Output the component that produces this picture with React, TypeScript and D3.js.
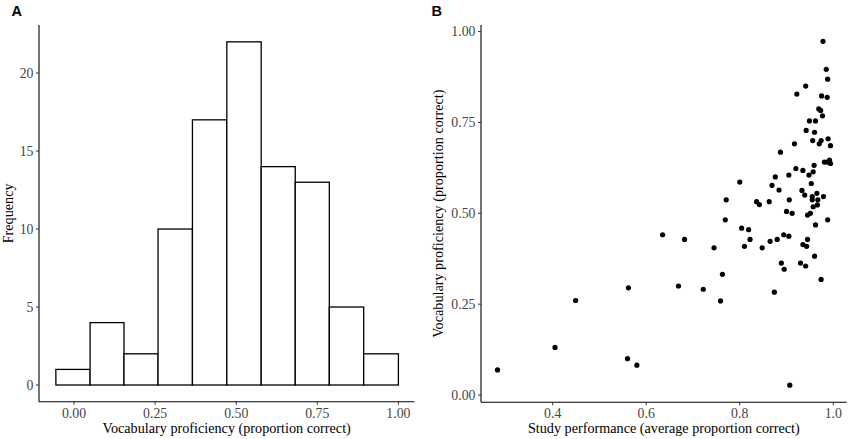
import React from "react";
import * as d3 from "d3";

// Panel A: histogram of vocabulary proficiency
const binEdges = [-0.056, 0.0495, 0.154, 0.259, 0.365, 0.471, 0.577, 0.682, 0.787, 0.893, 1.0];
const binCounts = [1, 4, 2, 10, 17, 22, 14, 13, 5, 2];
const histXTicks = [0, 0.25, 0.5, 0.75, 1.0];
const histYTicks = [0, 5, 10, 15, 20];

// Panel B: study performance vs vocabulary proficiency
const studyPerf = [
  0.282, 0.405, 0.449, 0.560, 0.580, 0.562, 0.635, 0.682, 0.669, 0.722,
  0.745, 0.763, 0.759, 0.771, 0.769, 0.800, 0.804, 0.810, 0.819, 0.822,
  0.836, 0.842, 0.848, 0.863, 0.865, 0.869, 0.876, 0.884, 0.880, 0.887,
  0.889, 0.874, 0.894, 0.895, 0.900, 0.905, 0.906, 0.905, 0.907, 0.912,
  0.917, 0.922, 0.920, 0.930, 0.933, 0.935, 0.935, 0.939, 0.941, 0.942,
  0.941, 0.943, 0.945, 0.945, 0.948, 0.949, 0.951, 0.953, 0.955, 0.955,
  0.956, 0.957, 0.957, 0.959, 0.960, 0.960, 0.962, 0.962, 0.965, 0.966,
  0.967, 0.969, 0.970, 0.973, 0.974, 0.974, 0.975, 0.977, 0.978, 0.979,
  0.981, 0.985, 0.987, 0.988, 0.988, 0.989, 0.987, 0.992, 0.994, 0.994,
];
const vocabProf = [
  0.069, 0.131, 0.260, 0.100, 0.082, 0.295, 0.441, 0.428, 0.300, 0.291,
  0.405, 0.332, 0.259, 0.537, 0.482, 0.586, 0.459, 0.409, 0.455, 0.428,
  0.532, 0.524, 0.405, 0.532, 0.423, 0.577, 0.600, 0.564, 0.428, 0.668,
  0.363, 0.283, 0.441, 0.346, 0.505, 0.605, 0.537, 0.437, 0.027, 0.500,
  0.691, 0.828, 0.623, 0.363, 0.563, 0.618, 0.414, 0.550, 0.850, 0.728,
  0.355, 0.409, 0.495, 0.428, 0.605, 0.754, 0.500, 0.582, 0.537, 0.546,
  0.700, 0.614, 0.518, 0.632, 0.723, 0.382, 0.754, 0.468, 0.555, 0.523,
  0.537, 0.787, 0.691, 0.783, 0.700, 0.318, 0.823, 0.768, 0.973, 0.546,
  0.641, 0.896, 0.819, 0.869, 0.482, 0.705, 0.641, 0.646, 0.686, 0.637,
];
const scatXTicks = [0.4, 0.6, 0.8, 1.0];
const scatYTicks = [0, 0.25, 0.5, 0.75, 1.0];

const SERIF = "'Liberation Serif', 'Times New Roman', serif";
const SANS = "'Liberation Sans', Arial, sans-serif";
const TICK_COL = "#444444";
const TICK_LINE = "#333333";
const TICK_FS = 13.8;
const TITLE_FS = 14.2;

export default function App() {
  // Panel A scales
  const xA = d3.scaleLinear().domain([-0.108, 1.049]).range([39, 414.3]);
  const yA = d3.scaleLinear().domain([-1.07, 23.08]).range([401.7, 25]);
  // Panel B scales
  const xB = d3.scaleLinear().domain([0.2467, 1.0287]).range([481, 846.7]);
  const yB = d3.scaleLinear().domain([-0.02, 1.018]).range([402.3, 25]);

  const fmt2 = d3.format(".2f");
  const fmt1 = d3.format(".1f");

  const pts = studyPerf.map((s, i) => ({ x: s, y: vocabProf[i] }));

  return (
    <svg
      width={850}
      height={439}
      style={{ position: "absolute", left: 0, top: 0, background: "#fff" }}
    >
      <rect x={0} y={0} width={850} height={439} fill="#fff" />
      {/* Panel labels */}
      <text x={11.5} y={15.5} fontFamily={SANS} fontWeight="bold" fontSize={14.5} fill="#000">A</text>
      <text x={431.5} y={15.5} fontFamily={SANS} fontWeight="bold" fontSize={14.5} fill="#000">B</text>

      {/* ===== Panel A ===== */}
      <g>
        {binCounts.map((c, i) => (
          <rect
            key={i}
            x={xA(binEdges[i])}
            y={yA(c)}
            width={xA(binEdges[i + 1]) - xA(binEdges[i])}
            height={yA(0) - yA(c)}
            fill="#fff"
            stroke="#000"
            strokeWidth={1.3}
          />
        ))}
        {/* axes */}
        <line x1={xA.range()[0]} x2={xA.range()[1]} y1={yA.range()[0]} y2={yA.range()[0]} stroke="#000" strokeWidth={1.1} />
        <line x1={xA.range()[0]} x2={xA.range()[0]} y1={yA.range()[0]} y2={yA.range()[1]} stroke="#000" strokeWidth={1.1} />
        {histXTicks.map((t) => (
          <g key={"ax" + t}>
            <line x1={xA(t)} x2={xA(t)} y1={yA.range()[0]} y2={yA.range()[0] + 3} stroke={TICK_LINE} strokeWidth={1} />
            <text x={xA(t)} y={417.5} textAnchor="middle" fontFamily={SERIF} fontSize={TICK_FS} fill={TICK_COL}>{fmt2(t)}</text>
          </g>
        ))}
        {histYTicks.map((t) => (
          <g key={"ay" + t}>
            <line x1={xA.range()[0] - 3} x2={xA.range()[0]} y1={yA(t)} y2={yA(t)} stroke={TICK_LINE} strokeWidth={1} />
            <text x={xA.range()[0] - 5.5} y={yA(t)} dy="0.34em" textAnchor="end" fontFamily={SERIF} fontSize={TICK_FS} fill={TICK_COL}>{t}</text>
          </g>
        ))}
        <text x={(xA.range()[0] + xA.range()[1]) / 2} y={432.5} textAnchor="middle" fontFamily={SERIF} fontSize={TITLE_FS} fill="#000">
          Vocabulary proficiency (proportion correct)
        </text>
        <text
          transform={`translate(12.5, ${(yA.range()[0] + yA.range()[1]) / 2}) rotate(-90)`}
          textAnchor="middle"
          fontFamily={SERIF}
          fontSize={TITLE_FS}
          fill="#000"
        >
          Frequency
        </text>
      </g>

      {/* ===== Panel B ===== */}
      <g>
        {pts.map((p, i) => (
          <circle key={i} cx={xB(p.x)} cy={yB(p.y)} r={2.6} fill="#000" />
        ))}
        <line x1={xB.range()[0]} x2={xB.range()[1]} y1={yB.range()[0]} y2={yB.range()[0]} stroke="#000" strokeWidth={1.1} />
        <line x1={xB.range()[0]} x2={xB.range()[0]} y1={yB.range()[0]} y2={yB.range()[1]} stroke="#000" strokeWidth={1.1} />
        {scatXTicks.map((t) => (
          <g key={"bx" + t}>
            <line x1={xB(t)} x2={xB(t)} y1={yB.range()[0]} y2={yB.range()[0] + 3} stroke={TICK_LINE} strokeWidth={1} />
            <text x={xB(t)} y={418} textAnchor="middle" fontFamily={SERIF} fontSize={TICK_FS} fill={TICK_COL}>{fmt1(t)}</text>
          </g>
        ))}
        {scatYTicks.map((t) => (
          <g key={"by" + t}>
            <line x1={xB.range()[0] - 3} x2={xB.range()[0]} y1={yB(t)} y2={yB(t)} stroke={TICK_LINE} strokeWidth={1} />
            <text x={xB.range()[0] - 5.5} y={yB(t)} dy="0.34em" textAnchor="end" fontFamily={SERIF} fontSize={TICK_FS} fill={TICK_COL}>{fmt2(t)}</text>
          </g>
        ))}
        <text x={(xB.range()[0] + xB.range()[1]) / 2} y={433} textAnchor="middle" fontFamily={SERIF} fontSize={TITLE_FS} fill="#000">
          Study performance (average proportion correct)
        </text>
        <text
          transform={`translate(442.5, ${(yB.range()[0] + yB.range()[1]) / 2}) rotate(-90)`}
          textAnchor="middle"
          fontFamily={SERIF}
          fontSize={TITLE_FS}
          fill="#000"
        >
          Vocabulary proficiency (proportion correct)
        </text>
      </g>
    </svg>
  );
}
